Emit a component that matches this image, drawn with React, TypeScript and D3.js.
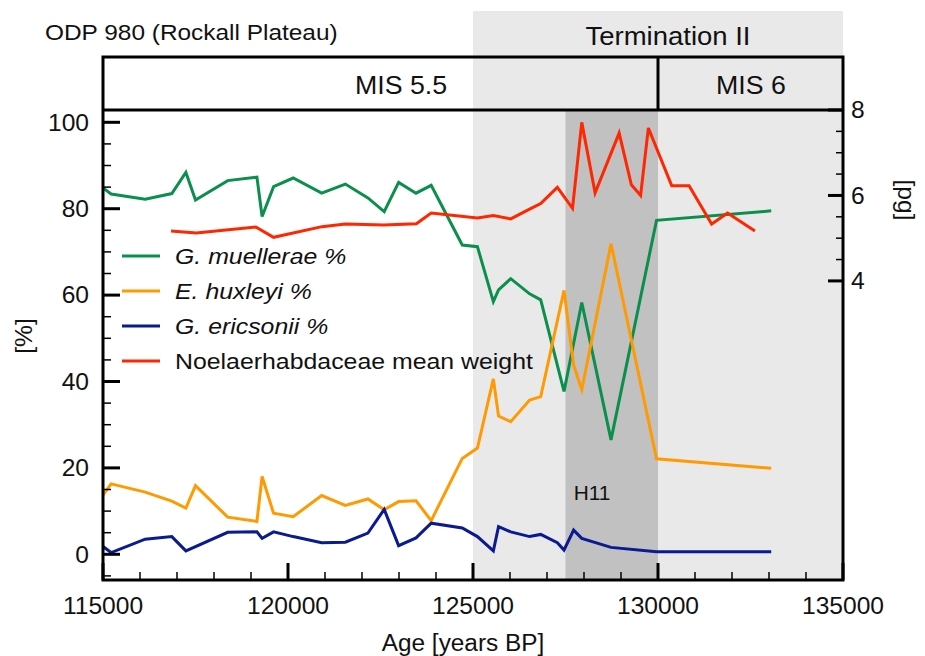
import React from "react";
import * as d3 from "d3";

// Sample ages (years BP) shared by the three coccolith percentage records
const ages = [
  115000, 115220, 116140, 116860, 117240, 117500, 118370, 119160, 119300, 119610,
  120140, 120910, 121550, 122160, 122600, 122990, 123460, 123870, 124710, 125120,
  125550, 125690, 126020, 126530, 126830, 127280, 127460, 127720, 127940, 128730,
  129960, 133060,
];

// Relative abundances [%] (null = not sampled for that taxon)
const muelleraePct: (number | null)[] = [
  84.8, 83.4, 82.2, 83.5, 88.4, 82.0, 86.5, 87.3, 78.2, 85.1,
  87.1, 83.6, 85.7, 82.5, 79.3, 86.1, 83.6, 85.4, 71.6, 71.2,
  58.5, 61.2, 63.8, 60.3, 58.9, null, 37.7, null, 58.3, 26.5,
  77.3, 79.5,
];
const huxleyiPct: (number | null)[] = [
  13.7, 16.3, 14.4, 12.3, 10.7, 15.9, 8.6, 7.6, 18.0, 9.5,
  8.7, 13.6, 11.3, 12.8, 10.3, 12.2, 12.4, 7.8, 22.2, 24.6,
  40.6, 32.0, 30.7, 35.7, 36.5, null, 61.1, 43.8, 38.1, 71.9,
  22.1, 19.9,
];
const ericsoniiPct: (number | null)[] = [
  1.8, 0.4, 3.5, 4.1, 0.8, null, 5.1, 5.2, 3.7, 5.2,
  4.1, 2.7, 2.8, 4.9, 10.4, 2.0, 3.8, 7.2, 6.1, 4.1,
  0.8, 6.4, 5.2, 4.1, 4.6, 2.7, 1.0, 5.6, 3.7, 1.6,
  0.6, 0.6,
];

// Noelaerhabdaceae mean coccolith weight [pg]
const weightAges = [
  116840, 117520, 119130, 119610, 120920, 121550, 122590, 123470, 123870, 125120,
  125550, 126020, 126530, 126830, 127280, 127690, 127940, 128300, 128950, 129280,
  129530, 129740, 130370, 130840, 131450, 131880, 132620,
];
const weightPg = [
  5.17, 5.12, 5.26, 5.02, 5.27, 5.33, 5.31, 5.34, 5.59, 5.47,
  5.53, 5.45, 5.68, 5.81, 6.19, 5.70, 7.71, 6.06, 7.46, 6.25,
  6.00, 7.58, 6.23, 6.23, 5.33, 5.59, 5.17,
];

const ageTicks = [115000, 120000, 125000, 130000, 135000];
const pctTicks = [0, 20, 40, 60, 80, 100];
const pgTicks = [4, 6, 8];

// Time intervals
const terminationII = [125000, 135000];
const h11 = [127500, 130000];
const misBoundary = 130000;

const FONT = "'Liberation Sans', Arial, Helvetica, sans-serif";
const GREEN = "#0a8f4c";
const ORANGE = "#ff9a00";
const BLUE = "#0a1a92";
const RED = "#ff2600";

const LEFT = 103;
const RIGHT = 843;
const TOP = 110;
const BOTTOM = 580;
const BOX_TOP = 57;
const BAND_TOP = 11;

type TxtProps = {
  x: number;
  y: number;
  size: number;
  sx?: number;
  anchor?: "start" | "middle" | "end";
  italic?: boolean;
  rotate?: number;
  dy?: string;
  children: React.ReactNode;
};

function Txt({ x, y, size, sx = 1.07, anchor = "start", italic = false, rotate = 0, dy, children }: TxtProps) {
  return (
    <text
      transform={`translate(${x},${y}) rotate(${rotate}) scale(${sx},1)`}
      fontSize={size}
      fontFamily={FONT}
      fontStyle={italic ? "italic" : "normal"}
      textAnchor={anchor}
      dy={dy}
      fill="#111"
    >
      {children}
    </text>
  );
}

export default function App() {
  const x = d3.scaleLinear().domain([115000, 135000]).range([LEFT, RIGHT]);
  const yPct = d3.scaleLinear().domain([-5.95, 102.85]).range([BOTTOM, TOP]);
  const yPg = d3.scaleLinear().domain([-3, 8]).range([BOTTOM, TOP]);

  const pctLine = (vals: (number | null)[]) => {
    const pts = ages
      .map((a, i) => [a, vals[i]] as [number, number | null])
      .filter((d) => d[1] !== null) as [number, number][];
    return d3
      .line<[number, number]>()
      .x((d) => x(d[0]))
      .y((d) => yPct(d[1]))(pts) as string;
  };
  const weightLine = d3
    .line<number>()
    .x((_, i) => x(weightAges[i]))
    .y((d) => yPg(d))(weightPg) as string;

  const minorAges = d3.range(116000, 135000, 1000).filter((v) => v % 5000 !== 0);
  const minorPct = d3.range(-5, 100, 5).filter((v) => v % 20 !== 0);
  const minorPg = [4.5, 5, 5.5, 6.5, 7, 7.5];

  const legend = [
    { label: "G. muellerae %", color: GREEN, italic: true },
    { label: "E. huxleyi %", color: ORANGE, italic: true },
    { label: "G. ericsonii %", color: BLUE, italic: true },
    { label: "Noelaerhabdaceae mean weight", color: RED, italic: false },
  ];

  return (
    <svg
      width={925}
      height={656}
      style={{ position: "absolute", left: 0, top: 0, background: "#fff" }}
    >
      <defs>
        <clipPath id="plot-area">
          <rect x={LEFT} y={TOP} width={RIGHT - LEFT} height={BOTTOM - TOP} />
        </clipPath>
      </defs>

      {/* Interval shading */}
      <rect x={LEFT} y={BOX_TOP} width={x(terminationII[0]) - LEFT} height={TOP - BOX_TOP} fill="#fff" />
      <rect
        x={x(terminationII[0])}
        y={BAND_TOP}
        width={x(terminationII[1]) - x(terminationII[0])}
        height={BOTTOM - BAND_TOP}
        fill="#e9e9e9"
      />
      <rect x={x(h11[0])} y={TOP} width={x(h11[1]) - x(h11[0])} height={BOTTOM - TOP} fill="#c1c1c1" />

      {/* Records */}
      <g clipPath="url(#plot-area)" fill="none" strokeWidth={3}>
        <path d={pctLine(muelleraePct)} stroke={GREEN} />
        <path d={pctLine(huxleyiPct)} stroke={ORANGE} />
        <path d={pctLine(ericsoniiPct)} stroke={BLUE} />
        <path d={weightLine} stroke={RED} />
      </g>

      {/* Axis ticks */}
      <g stroke="#000">
        {ageTicks.map((t) => (
          <line key={`xa${t}`} x1={x(t)} x2={x(t)} y1={BOTTOM} y2={BOTTOM - 17} strokeWidth={3} />
        ))}
        {minorAges.map((t) => (
          <line key={`xi${t}`} x1={x(t)} x2={x(t)} y1={BOTTOM} y2={BOTTOM - 8} strokeWidth={1.5} />
        ))}
        {pctTicks.map((t) => (
          <line key={`ya${t}`} x1={LEFT} x2={LEFT + 17} y1={yPct(t)} y2={yPct(t)} strokeWidth={3} />
        ))}
        {minorPct.map((t) => (
          <line key={`yi${t}`} x1={LEFT} x2={LEFT + 8} y1={yPct(t)} y2={yPct(t)} strokeWidth={1.5} />
        ))}
        {pgTicks.map((t) => (
          <line key={`pa${t}`} x1={RIGHT} x2={RIGHT - 15} y1={yPg(t)} y2={yPg(t)} strokeWidth={3} />
        ))}
        {minorPg.map((t) => (
          <line key={`pi${t}`} x1={RIGHT} x2={RIGHT - 7} y1={yPg(t)} y2={yPg(t)} strokeWidth={1.5} />
        ))}
      </g>

      {/* Frame and MIS boxes */}
      <g fill="none" stroke="#000" strokeWidth={3}>
        <rect x={LEFT} y={BOX_TOP} width={RIGHT - LEFT} height={BOTTOM - BOX_TOP} />
        <line x1={LEFT} x2={RIGHT} y1={TOP} y2={TOP} />
        <line x1={x(misBoundary)} x2={x(misBoundary)} y1={BOX_TOP} y2={TOP} />
      </g>

      {/* Tick labels */}
      {ageTicks.map((t) => (
        <Txt key={`xl${t}`} x={x(t)} y={614} size={23} anchor="middle">
          {t}
        </Txt>
      ))}
      {pctTicks.map((t) => (
        <Txt key={`yl${t}`} x={89} y={yPct(t)} size={23} anchor="end" dy="0.36em">
          {t}
        </Txt>
      ))}
      {pgTicks.map((t) => (
        <Txt key={`pl${t}`} x={851} y={yPg(t)} size={23} dy="0.36em">
          {t}
        </Txt>
      ))}

      {/* Axis titles */}
      <Txt x={463} y={651} size={23} sx={1.06} anchor="middle">Age [years BP]</Txt>
      <Txt x={32} y={336} size={23} anchor="middle" rotate={-90}>[%]</Txt>
      <Txt x={898} y={200} size={23} anchor="middle" rotate={90}>[pg]</Txt>

      {/* Headers */}
      <Txt x={45} y={40} size={22} sx={1.11}>ODP 980 (Rockall Plateau)</Txt>
      <Txt x={668} y={45} size={25} sx={1.1} anchor="middle">Termination II</Txt>
      <Txt x={401} y={94} size={25} anchor="middle">MIS 5.5</Txt>
      <Txt x={751} y={94} size={25} anchor="middle">MIS 6</Txt>
      <Txt x={592} y={500} size={19.5} sx={1.07} anchor="middle">H11</Txt>

      {/* Legend */}
      {legend.map((d, i) => {
        const ly = 256 + i * 35;
        return (
          <g key={d.label}>
            <line x1={122} x2={160} y1={ly} y2={ly} stroke={d.color} strokeWidth={3} />
            <Txt x={175} y={ly + 8} size={22} italic={d.italic} sx={1.13}>
              {d.label}
            </Txt>
          </g>
        );
      })}
    </svg>
  );
}
